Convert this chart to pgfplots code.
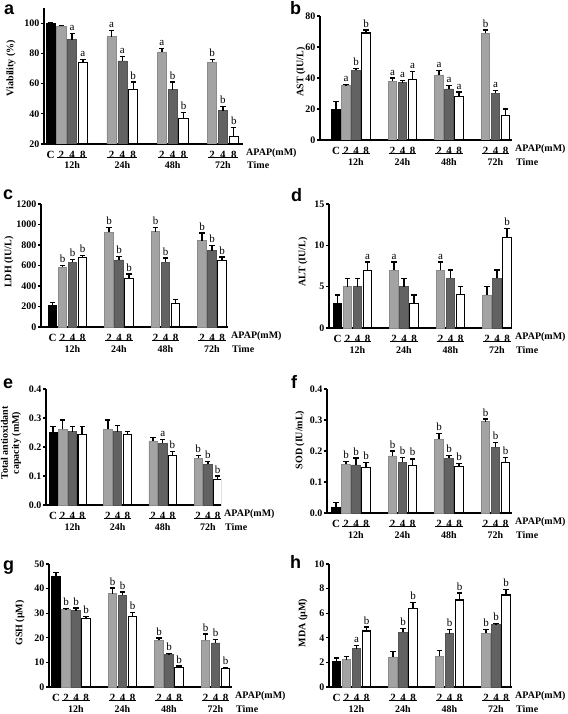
\documentclass[border=0pt]{standalone}
\usepackage{fontspec}
\setmainfont{Liberation Serif}
\newfontfamily\sansfont{Liberation Sans}
\usepackage{pgfplots}
\pgfplotsset{compat=1.18}
\definecolor{lg}{HTML}{A3A3A3}
\definecolor{dg}{HTML}{626262}
\newcommand{\tf}{\bfseries\fontsize{10}{11}\selectfont}
\newcommand{\xf}{\bfseries\fontsize{11}{12}\selectfont}
\newcommand{\lf}{\fontsize{11}{12}\selectfont}
\newcommand{\pf}{\sansfont\bfseries\fontsize{18}{20}\selectfont}
\pgfplotsset{
 pan/.style={
   scale only axis, anchor=south west, clip mode=individual,
   axis x line*=bottom, axis y line*=left,
   axis line style={line width=1.2pt,-},
   ybar, bar width=0.85,
   xtick={0,1,2,3,5.65,6.65,7.65,10.3,11.3,12.3,14.95,15.95,16.95},
   xticklabels={C,2,4,8,2,4,8,2,4,8,2,4,8},
   x tick style={draw=none},
   y tick style={line width=1.1pt, black},
   major tick length=3pt, tick align=outside,
   tick label style={font=\tf},
   yticklabel style={inner xsep=1.5pt},
   xticklabel style={anchor=base, yshift=-11.5pt, font=\xf},
   /pgf/number format/assume math mode=true,
   /pgf/number format/1000 sep={},
 },
 barstyle/.style={bar shift=0pt,
   /pgfplots/error bars/y dir=plus, /pgfplots/error bars/y explicit,
   /pgfplots/error bars/error bar style={line width=1.3pt,black},
   /pgfplots/error bars/error mark options={rotate=90,line width=1.3pt,black,mark size=2.6pt}},
 cC/.style={fill=black, draw=black, line width=0.6pt, barstyle},
 c2/.style={fill=lg, draw=lg!85!black, line width=0.6pt, barstyle},
 c4/.style={fill=dg, draw=dg!85!black, line width=0.6pt, barstyle},
 c8/.style={fill=white, draw=black, line width=1.1pt, barstyle},
}
\newcommand{\ann}[3]{\node[anchor=south,inner sep=0pt,font=\lf] at ([yshift=2.5pt]axis cs:#1,#2) {#3};}
\newcommand{\onegrp}[5]{%
  \draw[line width=1pt] ([yshift=-13.5pt]axis cs:#1,#5) -- ([yshift=-13.5pt]axis cs:#2,#5);
  \node[anchor=base,font=\tf,inner sep=0pt] at ([yshift=-25pt]axis cs:#3,#5) {#4};}
\newcommand{\grp}[1]{%
  \onegrp{0.62}{3.38}{2}{12h}{#1}
  \onegrp{5.27}{8.03}{6.65}{24h}{#1}
  \onegrp{9.92}{12.68}{11.3}{48h}{#1}
  \onegrp{14.57}{17.33}{15.95}{72h}{#1}
  \node[anchor=base west,font=\tf,inner sep=0pt] at ([xshift=3pt,yshift=-11.5pt]rel axis cs:1,0) {APAP(mM)};
  \node[anchor=base west,font=\tf,inner sep=0pt] at ([xshift=4pt,yshift=-25pt]rel axis cs:1,0) {Time};}
\begin{document}
\begin{tikzpicture}
\useasboundingbox (0,0) rectangle (567pt,-714pt);
% panel letters
\node[anchor=base west,inner sep=0pt,font=\pf] at (4pt,-15pt) {a};
\node[anchor=base west,inner sep=0pt,font=\pf] at (290pt,-15pt) {b};
\node[anchor=base west,inner sep=0pt,font=\pf] at (3pt,-200pt) {c};
\node[anchor=base west,inner sep=0pt,font=\pf] at (291pt,-201pt) {d};
\node[anchor=base west,inner sep=0pt,font=\pf] at (3pt,-388pt) {e};
\node[anchor=base west,inner sep=0pt,font=\pf] at (291pt,-388pt) {f};
\node[anchor=base west,inner sep=0pt,font=\pf] at (3pt,-570pt) {g};
\node[anchor=base west,inner sep=0pt,font=\pf] at (290pt,-568pt) {h};
% y labels
\node[rotate=90,font=\tf] at (11pt,-68pt) {Viability (\%)};
\node[rotate=90,font=\tf] at (301pt,-72pt) {AST (IU/L)};
\node[rotate=90,font=\tf] at (9pt,-262pt) {LDH (IU/L)};
\node[rotate=90,font=\tf] at (303pt,-262pt) {ALT (IU/L)};
\node[rotate=90,font=\tf,align=center] at (11pt,-443pt) {Total antioxidant\\capacity (mM)};
\node[rotate=90,font=\tf] at (300pt,-440pt) {SOD (IU/mL)};
\node[rotate=90,font=\tf] at (20pt,-623pt) {GSH (µM)};
\node[rotate=90,font=\tf] at (303pt,-623pt) {MDA (µM)};

% ---------- a
\begin{axis}[pan, at={(44pt,-144pt)}, width=199pt, height=136pt,
  xmin=-0.6, xmax=17.8, ymin=20, ymax=110, ytick={20,40,60,80,100}]
\addplot[cC] coordinates {(0,100) +- (0,0.5)};
\addplot[c2] coordinates {(1,98) +- (0,0.6) (5.65,91) +- (0,4) (10.3,81) +- (0,2) (14.95,74) +- (0,2)};
\addplot[c4] coordinates {(2,89) +- (0,4) (6.65,75) +- (0,3) (11.3,56) +- (0,5) (15.95,42) +- (0,3)};
\addplot[c8] coordinates {(3,74) +- (0,2) (7.65,56) +- (0,5) (12.3,37) +- (0,4) (16.95,25) +- (0,6)};
\ann{2}{93}{a}\ann{3}{76}{a}
\ann{5.65}{95}{a}\ann{6.65}{78}{a}\ann{7.65}{61}{b}
\ann{10.3}{83}{a}\ann{11.3}{61}{b}\ann{12.3}{41}{b}
\ann{14.95}{76}{b}\ann{15.95}{45}{b}\ann{16.95}{31}{b}
\grp{20}
\end{axis}

% ---------- b
\begin{axis}[pan, at={(320pt,-140pt)}, width=192pt, height=124pt,
  xmin=-1.6, xmax=17.6, ymin=0, ymax=80, ytick={0,20,40,60,80}]
\addplot[cC] coordinates {(0,20) +- (0,5)};
\addplot[c2] coordinates {(1,35) +- (0,1) (5.65,38) +- (0,2) (10.3,42) +- (0,3) (14.95,69) +- (0,2)};
\addplot[c4] coordinates {(2,45) +- (0,1) (6.65,37) +- (0,1.5) (11.3,33) +- (0,2) (15.95,30) +- (0,2)};
\addplot[c8] coordinates {(3,69) +- (0,2) (7.65,39) +- (0,5) (12.3,28) +- (0,3) (16.95,16) +- (0,4)};
\ann{1}{36}{a}\ann{2}{46}{b}\ann{3}{71}{b}
\ann{5.65}{40}{a}\ann{6.65}{38.5}{a}\ann{7.65}{44}{a}
\ann{10.3}{45}{a}\ann{11.3}{35}{a}\ann{12.3}{31}{a}
\ann{14.95}{71}{b}\ann{15.95}{32}{a}
\grp{0}
\end{axis}

% ---------- c
\begin{axis}[pan, at={(41pt,-327pt)}, width=187pt, height=123pt,
  xmin=-1.15, xmax=17.55, ymin=0, ymax=1200, ytick={0,200,400,600,800,1000,1200}]
\addplot[cC] coordinates {(0,211) +- (0,25)};
\addplot[c2] coordinates {(1,585) +- (0,15) (5.65,924) +- (0,48) (10.3,930) +- (0,42) (14.95,842) +- (0,75)};
\addplot[c4] coordinates {(2,634) +- (0,23) (6.65,655) +- (0,34) (11.3,634) +- (0,38) (15.95,745) +- (0,48)};
\addplot[c8] coordinates {(3,680) +- (0,16) (7.65,472) +- (0,45) (12.3,228) +- (0,40) (16.95,647) +- (0,36)};
\ann{1}{600}{b}\ann{2}{657}{b}\ann{3}{696}{b}
\ann{5.65}{972}{b}\ann{6.65}{689}{b}\ann{7.65}{517}{b}
\ann{10.3}{972}{b}\ann{11.3}{673}{b}
\ann{14.95}{917}{b}\ann{15.95}{793}{b}\ann{16.95}{683}{b}
\grp{0}
\end{axis}

% ---------- d
\begin{axis}[pan, at={(329pt,-328pt)}, width=183pt, height=124pt,
  xmin=-0.85, xmax=17.45, ymin=0, ymax=15, ytick={0,5,10,15}]
\addplot[cC] coordinates {(0,3) +- (0,1)};
\addplot[c2] coordinates {(1,5) +- (0,1) (5.65,7) +- (0,1) (10.3,7) +- (0,1) (14.95,4) +- (0,1)};
\addplot[c4] coordinates {(2,5) +- (0,1) (6.65,5) +- (0,1) (11.3,6) +- (0,1) (15.95,6) +- (0,1)};
\addplot[c8] coordinates {(3,7) +- (0,1) (7.65,3) +- (0,1) (12.3,4) +- (0,1) (16.95,11) +- (0,1)};
\ann{3}{8}{a}\ann{5.65}{8}{a}\ann{10.3}{8}{a}\ann{16.95}{12}{b}
\grp{0}
\end{axis}

% ---------- e
\begin{axis}[pan, at={(46pt,-505pt)}, width=175pt, height=116pt,
  xmin=-0.72, xmax=17.3, ymin=0, ymax=0.4, ytick={0,0.1,0.2,0.3,0.4},
  yticklabel style={/pgf/number format/.cd, fixed, fixed zerofill, precision=1}]
\addplot[cC] coordinates {(0,0.251) +- (0,0.019)};
\addplot[c2] coordinates {(1,0.261) +- (0,0.032) (5.65,0.261) +- (0,0.032) (10.3,0.221) +- (0,0.011) (14.95,0.162) +- (0,0.008)};
\addplot[c4] coordinates {(2,0.253) +- (0,0.017) (6.65,0.253) +- (0,0.02) (11.3,0.213) +- (0,0.014) (15.95,0.141) +- (0,0.009)};
\addplot[c8] coordinates {(3,0.242) +- (0,0.028) (7.65,0.242) +- (0,0.011) (12.3,0.17) +- (0,0.015) (16.95,0.089) +- (0,0.011)};
\ann{11.3}{0.227}{a}\ann{12.3}{0.185}{b}
\ann{14.95}{0.17}{b}\ann{15.95}{0.15}{b}\ann{16.95}{0.1}{b}
\grp{0}
\end{axis}

% ---------- f
\begin{axis}[pan, at={(327pt,-513pt)}, width=185pt, height=124pt,
  xmin=-0.9, xmax=17.6, ymin=0, ymax=0.4, ytick={0,0.1,0.2,0.3,0.4},
  yticklabel style={/pgf/number format/.cd, fixed, fixed zerofill, precision=1}]
\addplot[cC] coordinates {(0,0.018) +- (0,0.016)};
\addplot[c2] coordinates {(1,0.158) +- (0,0.008) (5.65,0.184) +- (0,0.016) (10.3,0.238) +- (0,0.019) (14.95,0.295) +- (0,0.008)};
\addplot[c4] coordinates {(2,0.155) +- (0,0.022) (6.65,0.164) +- (0,0.016) (11.3,0.177) +- (0,0.008) (15.95,0.212) +- (0,0.015)};
\addplot[c8] coordinates {(3,0.148) +- (0,0.016) (7.65,0.152) +- (0,0.022) (12.3,0.15) +- (0,0.009) (16.95,0.163) +- (0,0.016)};
\ann{1}{0.166}{b}\ann{2}{0.177}{b}\ann{3}{0.164}{b}
\ann{5.65}{0.2}{b}\ann{6.65}{0.18}{b}\ann{7.65}{0.175}{b}
\ann{10.3}{0.257}{b}\ann{11.3}{0.185}{b}\ann{12.3}{0.159}{b}
\ann{14.95}{0.303}{b}\ann{15.95}{0.227}{b}\ann{16.95}{0.179}{b}
\grp{0}
\end{axis}

% ---------- g
\begin{axis}[pan, at={(49pt,-687pt)}, width=183pt, height=123pt,
  xmin=-0.7, xmax=17.6, ymin=0, ymax=50, ytick={0,10,20,30,40,50}]
\addplot[cC] coordinates {(0,45) +- (0,1.6)};
\addplot[c2] coordinates {(1,31.4) +- (0,0.4) (5.65,37.9) +- (0,2.3) (10.3,19) +- (0,0.9) (14.95,19) +- (0,2.5)};
\addplot[c4] coordinates {(2,31) +- (0,1.1) (6.65,37.3) +- (0,1.3) (11.3,13.1) +- (0,0.5) (15.95,17.9) +- (0,1.3)};
\addplot[c8] coordinates {(3,28) +- (0,0.7) (7.65,28.7) +- (0,1.7) (12.3,8.1) +- (0,0.4) (16.95,7.6) +- (0,0.3)};
\ann{1}{31.8}{b}\ann{2}{32.1}{b}\ann{3}{28.7}{b}
\ann{5.65}{40.2}{b}\ann{6.65}{38.6}{b}\ann{7.65}{30.4}{b}
\ann{10.3}{19.9}{b}\ann{11.3}{13.6}{b}\ann{12.3}{8.5}{b}
\ann{14.95}{21.5}{b}\ann{15.95}{19.2}{b}\ann{16.95}{7.9}{b}
\grp{0}
\end{axis}

% ---------- h
\begin{axis}[pan, at={(329pt,-687pt)}, width=183pt, height=123pt,
  xmin=-0.75, xmax=17.55, ymin=0, ymax=10, ytick={0,2,4,6,8,10}]
\addplot[cC] coordinates {(0,2.11) +- (0,0.25)};
\addplot[c2] coordinates {(1,2.22) +- (0,0.25) (5.65,2.44) +- (0,0.46) (10.3,2.49) +- (0,0.46) (14.95,4.39) +- (0,0.27)};
\addplot[c4] coordinates {(2,3.12) +- (0,0.24) (6.65,4.47) +- (0,0.27) (11.3,4.34) +- (0,0.32) (15.95,5.07) +- (0,0.08)};
\addplot[c8] coordinates {(3,4.55) +- (0,0.33) (7.65,6.4) +- (0,0.48) (12.3,7.07) +- (0,0.57) (16.95,7.48) +- (0,0.43)};
\ann{2}{3.36}{a}\ann{3}{4.88}{b}
\ann{6.65}{4.74}{b}\ann{7.65}{6.88}{b}
\ann{11.3}{4.66}{b}\ann{12.3}{7.64}{b}
\ann{14.95}{4.66}{b}\ann{15.95}{5.15}{b}\ann{16.95}{7.91}{b}
\grp{0}
\end{axis}
\end{tikzpicture}
\end{document}
